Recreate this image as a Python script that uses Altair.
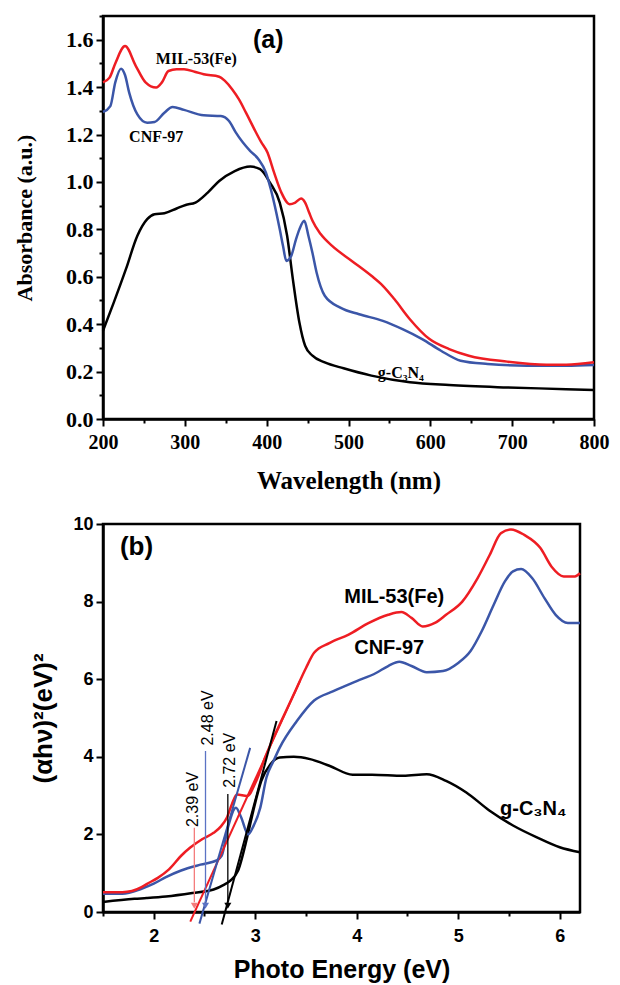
import altair as alt
import pandas as pd

# ---------------- Panel (a): UV-vis absorbance ----------------
red_a_w = [200, 208, 215, 227, 240, 252, 265, 272, 280, 290, 299, 312, 323, 342, 349, 358, 366, 375, 385, 393,
           401, 409, 418, 428, 435, 442, 447, 452, 456, 466, 480, 504, 528, 542, 556, 575, 599, 623, 647, 694,
           742, 766, 800]
red_a_A = [1.42, 1.44, 1.50, 1.573, 1.49, 1.42, 1.398, 1.42, 1.468, 1.475, 1.475, 1.465, 1.454, 1.444, 1.426,
           1.39, 1.349, 1.29, 1.222, 1.17, 1.124, 1.04, 0.955, 0.906, 0.913, 0.93, 0.913, 0.87, 0.836, 0.78,
           0.73, 0.667, 0.604, 0.562, 0.506, 0.421, 0.337, 0.295, 0.267, 0.242, 0.229, 0.229, 0.239]

blue_a_w = [200, 209, 215, 222, 227, 232, 242, 254, 263, 275, 285, 299, 323, 344, 354, 362, 371, 380, 390, 399,
            405, 409, 416, 420, 424, 430, 436, 440, 446, 451, 456, 461, 471, 490, 513, 542, 566, 590, 613, 637,
            670, 718, 766, 800]
blue_a_A = [1.295, 1.32, 1.42, 1.478, 1.45, 1.377, 1.285, 1.25, 1.253, 1.292, 1.316, 1.304, 1.281, 1.278, 1.257,
            1.21, 1.166, 1.13, 1.096, 1.04, 0.97, 0.913, 0.80, 0.73, 0.667, 0.688, 0.76, 0.80, 0.836, 0.773,
            0.70, 0.618, 0.52, 0.47, 0.442, 0.414, 0.379, 0.337, 0.288, 0.246, 0.232, 0.225, 0.225, 0.228]

black_a_w = [200, 213, 228, 242, 254, 263, 275, 290, 301, 313, 328, 342, 361, 380, 392, 404, 416, 425, 432, 440,
             447, 456, 471, 494, 528, 575, 623, 694, 766, 800]
black_a_A = [0.372, 0.49, 0.632, 0.773, 0.843, 0.864, 0.868, 0.888, 0.903, 0.913, 0.955, 1.004, 1.046, 1.065,
             1.054, 0.997, 0.913, 0.773, 0.59, 0.407, 0.309, 0.267, 0.239, 0.214, 0.183, 0.155, 0.143, 0.133,
             0.126, 0.122]

a_label_text = ["MIL-53(Fe)", "CNF-97", "g-C\u2083N\u2084"]
a_label_w = [314, 265, 564]
a_label_A = [1.52, 1.19, 0.195]
a_panel_text = ["(a)"]
a_panel_w = [402]
a_panel_A = [1.60]

# ---------------- Panel (b): Tauc plot ----------------
red_b_x = [1.50, 1.69, 1.88, 1.93, 2.04, 2.15, 2.27, 2.36, 2.48, 2.59, 2.66, 2.72, 2.77, 2.82, 2.92, 3.01, 3.10,
           3.18, 3.28, 3.38, 3.50, 3.58, 3.73, 3.92, 4.12, 4.31, 4.44, 4.54, 4.65, 4.77, 4.88, 5.04, 5.19, 5.31,
           5.42, 5.52, 5.65, 5.81, 5.92, 6.04, 6.15, 6.20]
red_b_y = [0.51, 0.51, 0.64, 0.72, 0.88, 1.10, 1.45, 1.66, 1.88, 2.04, 2.20, 2.43, 2.78, 3.03, 2.99, 3.38, 4.00,
           4.49, 5.05, 5.61, 6.29, 6.68, 6.93, 7.15, 7.45, 7.66, 7.73, 7.58, 7.36, 7.45, 7.66, 8.00, 8.60, 9.20,
           9.76, 9.86, 9.72, 9.38, 8.90, 8.65, 8.65, 8.73]

blue_b_x = [1.50, 1.69, 1.88, 2.00, 2.12, 2.27, 2.46, 2.62, 2.67, 2.73, 2.81, 2.86, 2.93, 2.98, 3.05, 3.11, 3.18,
            3.24, 3.41, 3.58, 3.77, 4.00, 4.19, 4.31, 4.42, 4.54, 4.69, 4.85, 5.00, 5.12, 5.23, 5.35, 5.46, 5.54,
            5.62, 5.73, 5.85, 5.96, 6.08, 6.20]
blue_b_y = [0.47, 0.47, 0.60, 0.73, 0.90, 1.07, 1.22, 1.33, 1.45, 2.17, 2.69, 2.45, 2.00, 2.20, 2.69, 3.46, 3.89,
            4.23, 4.92, 5.45, 5.69, 5.95, 6.16, 6.34, 6.45, 6.34, 6.18, 6.21, 6.42, 6.72, 7.23, 7.92, 8.52, 8.78,
            8.84, 8.60, 8.09, 7.66, 7.45, 7.45]

black_b_x = [1.50, 1.81, 1.93, 2.12, 2.38, 2.59, 2.69, 2.75, 2.83, 2.92, 2.98, 3.06, 3.15, 3.24, 3.38, 3.54, 3.73,
             3.96, 4.15, 4.46, 4.69, 4.88, 5.08, 5.31, 5.54, 5.77, 6.00, 6.20]
black_b_y = [0.26, 0.34, 0.36, 0.40, 0.49, 0.58, 0.70, 0.80, 1.06, 1.92, 2.60, 3.38, 3.81, 3.98, 4.00, 3.94, 3.77,
             3.54, 3.54, 3.51, 3.55, 3.38, 3.08, 2.61, 2.23, 1.93, 1.67, 1.54]

# tangent lines (two end points each)
tan_red_x = [2.36, 3.44]
tan_red_y = [-0.25, 5.95]
tan_blue_x = [2.45, 2.95]
tan_blue_y = [-0.30, 4.23]
tan_black_x = [2.67, 3.21]
tan_black_y = [-0.32, 4.92]

# band-gap arrows
gap_text = ["2.39 eV", "2.48 eV", "2.72 eV"]
gap_arrow_x = [2.40, 2.51, 2.73]
gap_arrow_top = [2.17, 4.15, 3.04]
gap_arrow_bottom = [0.25, 0.25, 0.25]
gap_head_y = [0.16, 0.16, 0.16]
gap_text_x = [2.39, 2.53, 2.75]
gap_text_y = [2.90, 5.00, 3.91]
gap_colors = ["#f47c7c", "#5b73c4", "#000000"]

b_label_text = ["MIL-53(Fe)", "CNF-97", "g-C\u2083N\u2084"]
b_label_x = [4.37, 4.32, 5.74]
b_label_y = [8.13, 6.80, 2.65]
b_panel_text = ["(b)"]
b_panel_x = [1.83]
b_panel_y = [9.40]

RED = "#ee1d23"
BLUE = "#3b56a8"
BLACK = "#000000"


def long(series):
    rows = []
    for name, color, xs, ys in series:
        for x, y in zip(xs, ys):
            rows.append({"x": x, "y": y, "s": name, "c": color})
    return pd.DataFrame(rows)


def axis(values, test, label_expr, title, font, lsize, tsize, tpad, lpad):
    return alt.Axis(
        values=values,
        labelExpr=label_expr,
        tickSize={"condition": {"test": test, "value": 7}, "value": 4},
        tickWidth=2, tickColor="black",
        domainWidth=2.5, domainColor="black",
        labelFont=font, labelFontWeight="bold", labelFontSize=lsize, labelColor="black",
        labelPadding=lpad, labelFlush=False, labelOverlap=False,
        title=title, titleFont=font, titleFontWeight="bold", titleFontSize=tsize,
        titleColor="black", titlePadding=tpad, grid=False,
    )


# ---------------- build panel (a) ----------------
top_df = long([
    ("g-C3N4", BLACK, black_a_w, black_a_A),
    ("CNF-97", BLUE, blue_a_w, blue_a_A),
    ("MIL-53(Fe)", RED, red_a_w, red_a_A),
])

TA_X = "datum.value % 100 == 0"
TA_Y = "abs(datum.value*5 - round(datum.value*5)) < 0.001"
xa = alt.X("x:Q", scale=alt.Scale(domain=[200, 800], nice=False, zero=False),
           axis=axis(list(range(200, 801, 50)), TA_X, f"{TA_X} ? datum.label : ''",
                     "Wavelength (nm)", "Liberation Serif", 20, 25, 16, 6))
ya = alt.Y("y:Q", scale=alt.Scale(domain=[0, 1.7], nice=False, zero=False),
           axis=axis([round(i * 0.1, 1) for i in range(18)], TA_Y,
                     f"{TA_Y} ? format(datum.value, '.1f') : ''",
                     "Absorbance (a.u.)", "Liberation Serif", 22, 22, 29, 3))

top_lines = alt.Chart(top_df).mark_line(strokeWidth=2.5, interpolate="monotone").encode(
    x=xa, y=ya, detail="s:N", color=alt.Color("c:N", scale=None))

a_lab_df = pd.DataFrame({"x": a_label_w, "y": a_label_A, "t": a_label_text})
top_labels = alt.Chart(a_lab_df).mark_text(
    font="Liberation Serif", fontWeight="bold", fontSize=16, color="black").encode(
    x=xa, y=ya, text="t:N")

a_pan_df = pd.DataFrame({"x": a_panel_w, "y": a_panel_A, "t": a_panel_text})
top_panel = alt.Chart(a_pan_df).mark_text(
    font="Liberation Sans", fontWeight="bold", fontSize=25, color="black").encode(
    x=xa, y=ya, text="t:N")

top = alt.layer(top_lines, top_labels, top_panel).properties(width=491, height=403)

# ---------------- build panel (b) ----------------
bot_df = long([
    ("g-C3N4", BLACK, black_b_x, black_b_y),
    ("CNF-97", BLUE, blue_b_x, blue_b_y),
    ("MIL-53(Fe)", RED, red_b_x, red_b_y),
])
tan_df = long([
    ("t-red", RED, tan_red_x, tan_red_y),
    ("t-blue", BLUE, tan_blue_x, tan_blue_y),
    ("t-black", BLACK, tan_black_x, tan_black_y),
])

TB_X = "abs(datum.value - round(datum.value)) < 0.001"
TB_Y = "datum.value % 2 == 0"
xb = alt.X("x:Q", scale=alt.Scale(domain=[1.5, 6.2], nice=False, zero=False),
           axis=axis([1.5 + 0.5 * i for i in range(10)], TB_X, f"{TB_X} ? format(datum.value, 'd') : ''",
                     "Photo Energy (eV)", "Liberation Sans", 18, 25, 12, 8))
yb = alt.Y("y:Q", scale=alt.Scale(domain=[0, 10], nice=False, zero=False),
           axis=axis(list(range(0, 11)), TB_Y, f"{TB_Y} ? datum.label : ''",
                     "(\u03b1h\u03bd)\u00b2(eV)\u00b2", "Liberation Sans", 18, 26, 16, 3))

bot_lines = alt.Chart(bot_df).mark_line(strokeWidth=2.5, interpolate="monotone").encode(
    x=xb, y=yb, detail="s:N", color=alt.Color("c:N", scale=None))

tan_lines = alt.Chart(tan_df).mark_line(strokeWidth=2).encode(
    x=xb, y=yb, detail="s:N", color=alt.Color("c:N", scale=None))

arrow_df = pd.DataFrame({"x": gap_arrow_x, "y": gap_arrow_top, "y2": gap_arrow_bottom,
                         "h": gap_head_y, "c": gap_colors})
arrows = alt.Chart(arrow_df).mark_rule(strokeWidth=1.3).encode(
    x=xb, y=yb, y2="y2:Q", color=alt.Color("c:N", scale=None))
heads = alt.Chart(arrow_df).mark_point(shape="triangle-down", filled=True, size=50, opacity=1).encode(
    x=xb, y=alt.Y("h:Q"), color=alt.Color("c:N", scale=None))

gap_df = pd.DataFrame({"x": gap_text_x, "y": gap_text_y, "t": gap_text})
gap_labels = alt.Chart(gap_df).mark_text(
    font="Liberation Sans", fontSize=16, angle=270, color="black").encode(
    x=xb, y=yb, text="t:N")

b_lab_df = pd.DataFrame({"x": b_label_x, "y": b_label_y, "t": b_label_text})
bot_labels = alt.Chart(b_lab_df).mark_text(
    font="Liberation Sans", fontWeight="bold", fontSize=20, color="black").encode(
    x=xb, y=yb, text="t:N")

b_pan_df = pd.DataFrame({"x": b_panel_x, "y": b_panel_y, "t": b_panel_text})
bot_panel = alt.Chart(b_pan_df).mark_text(
    font="Liberation Sans", fontWeight="bold", fontSize=26, color="black").encode(
    x=xb, y=yb, text="t:N")

bottom = alt.layer(bot_lines, tan_lines, arrows, heads, gap_labels, bot_labels, bot_panel).properties(
    width=477, height=388)

chart = alt.vconcat(top, bottom, spacing=18).properties(
    padding={"left": 12, "top": 3, "right": 5, "bottom": 0}
).configure_view(stroke="black", strokeWidth=2.5)

chart.save("out.html", embed_options={"renderer": "svg", "actions": False})
